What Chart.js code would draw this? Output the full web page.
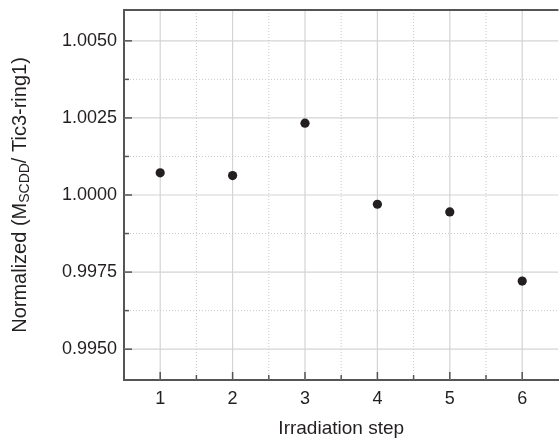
<!DOCTYPE html>
<html>
<head>
<meta charset="utf-8">
<script src="https://cdn.jsdelivr.net/npm/chart.js@4.4.1/dist/chart.umd.min.js"></script>
<style>
  html, body { margin: 0; padding: 0; background: #fff; overflow: hidden; }
  #wrap { width: 559px; height: 442px; overflow: hidden; }
</style>
</head>
<body>
<div id="wrap"><canvas id="stepChart" width="563" height="442"></canvas></div>
<script>
// Normalized ratio per irradiation step
const steps = [1, 2, 3, 4, 5, 6];
const normalized = [1.00072, 1.00063, 1.00233, 0.99970, 0.99945, 0.99721];

// Axis ticks (major labelled, minor only get a tick mark + dotted grid)
const yMajorTicks = [0.9950, 0.9975, 1.0000, 1.0025, 1.0050];
const yMinorTicks = [0.99625, 0.99875, 1.00125, 1.00375];
const xMinorTicks = [1.5, 2.5, 3.5, 4.5, 5.5];

const FONT = '"Liberation Sans", Arial, Helvetica, sans-serif';
const AXIS = '#555555';
const INK = '#231f20';

// grid lines behind the points
const gridPlugin = {
  id: 'grid',
  beforeDatasetsDraw(chart) {
    const { ctx, chartArea: a, scales: { x, y } } = chart;
    ctx.save();
    ctx.beginPath();
    ctx.rect(a.left, a.top, a.right - a.left, a.bottom - a.top);
    ctx.clip();

    ctx.strokeStyle = '#d4d4d4';
    ctx.lineWidth = 1.2;
    ctx.setLineDash([]);
    yMajorTicks.forEach(v => {
      const py = y.getPixelForValue(v);
      ctx.beginPath(); ctx.moveTo(a.left, py); ctx.lineTo(a.right, py); ctx.stroke();
    });
    steps.forEach(v => {
      const px = x.getPixelForValue(v);
      ctx.beginPath(); ctx.moveTo(px, a.top); ctx.lineTo(px, a.bottom); ctx.stroke();
    });

    ctx.strokeStyle = '#c8c8c8';
    ctx.lineWidth = 1;
    ctx.setLineDash([1, 2]);
    yMinorTicks.forEach(v => {
      const py = y.getPixelForValue(v);
      ctx.beginPath(); ctx.moveTo(a.left, py); ctx.lineTo(a.right, py); ctx.stroke();
    });
    xMinorTicks.forEach(v => {
      const px = x.getPixelForValue(v);
      ctx.beginPath(); ctx.moveTo(px, a.top); ctx.lineTo(px, a.bottom); ctx.stroke();
    });
    ctx.restore();
  },
  afterDraw(chart) {
    const { ctx, chartArea: a, scales: { x, y } } = chart;
    ctx.save();
    // top frame line
    ctx.strokeStyle = AXIS;
    ctx.lineWidth = 2;
    ctx.beginPath(); ctx.moveTo(a.left - 1, a.top); ctx.lineTo(a.right, a.top); ctx.stroke();

    // inward tick marks
    ctx.lineWidth = 1.5;
    const tick = (px1, py1, px2, py2) => {
      ctx.beginPath(); ctx.moveTo(px1, py1); ctx.lineTo(px2, py2); ctx.stroke();
    };
    yMajorTicks.forEach(v => { const py = y.getPixelForValue(v); tick(a.left, py, a.left + 8, py); });
    yMinorTicks.forEach(v => { const py = y.getPixelForValue(v); tick(a.left, py, a.left + 5, py); });
    steps.forEach(v => { const px = x.getPixelForValue(v); tick(px, a.bottom, px, a.bottom - 8); });
    xMinorTicks.forEach(v => { const px = x.getPixelForValue(v); tick(px, a.bottom, px, a.bottom - 5); });

    // rotated y title with subscript
    const parts = [
      { t: 'Normalized (M', size: 20, shift: 0 },
      { t: 'SCDD', size: 14, shift: 5 },
      { t: '/ Tic3-ring1)', size: 20, shift: 0 }
    ];
    let total = 0;
    parts.forEach(p => { ctx.font = p.size + 'px ' + FONT; p.w = ctx.measureText(p.t).width; total += p.w; });
    ctx.translate(20, (a.top + a.bottom) / 2);
    ctx.rotate(-Math.PI / 2);
    ctx.fillStyle = INK;
    ctx.textBaseline = 'middle';
    ctx.textAlign = 'left';
    let cx = -total / 2;
    parts.forEach(p => {
      ctx.font = p.size + 'px ' + FONT;
      ctx.fillText(p.t, cx, p.shift);
      cx += p.w;
    });
    ctx.restore();
  }
};

new Chart(document.getElementById('stepChart'), {
  type: 'scatter',
  data: {
    datasets: [{
      label: 'Normalized',
      data: steps.map((s, i) => ({ x: s, y: normalized[i] })),
      backgroundColor: INK,
      borderWidth: 0,
      pointRadius: 4.6,
      pointHoverRadius: 4.6
    }]
  },
  options: {
    responsive: false,
    animation: false,
    layout: { padding: { top: 10, right: 0, left: 0, bottom: 0 } },
    plugins: { legend: { display: false }, tooltip: { enabled: false } },
    scales: {
      x: {
        type: 'linear',
        min: 0.5,
        max: 6.5,
        afterBuildTicks: s => { s.ticks = steps.map(v => ({ value: v })); },
        afterFit: s => { s.height = 62; s.paddingLeft = 0; s.paddingRight = 0; },
        grid: { display: false, drawTicks: false },
        border: { display: true, color: AXIS, width: 2 },
        ticks: { color: INK, font: { family: FONT, size: 18 }, padding: 8, callback: v => String(v) },
        title: { display: true, text: 'Irradiation step', color: INK, font: { family: FONT, size: 19 }, padding: { top: 0, bottom: 2 } }
      },
      y: {
        min: 0.994,
        max: 1.006,
        afterBuildTicks: s => { s.ticks = yMajorTicks.map(v => ({ value: v })); },
        afterFit: s => { s.width = 124; s.paddingTop = 0; s.paddingBottom = 0; },
        grid: { display: false, drawTicks: false },
        border: { display: true, color: AXIS, width: 2 },
        ticks: { color: INK, font: { family: FONT, size: 18 }, padding: 7, callback: v => v.toFixed(4) }
      }
    }
  },
  plugins: [gridPlugin]
});
</script>
</body>
</html>
